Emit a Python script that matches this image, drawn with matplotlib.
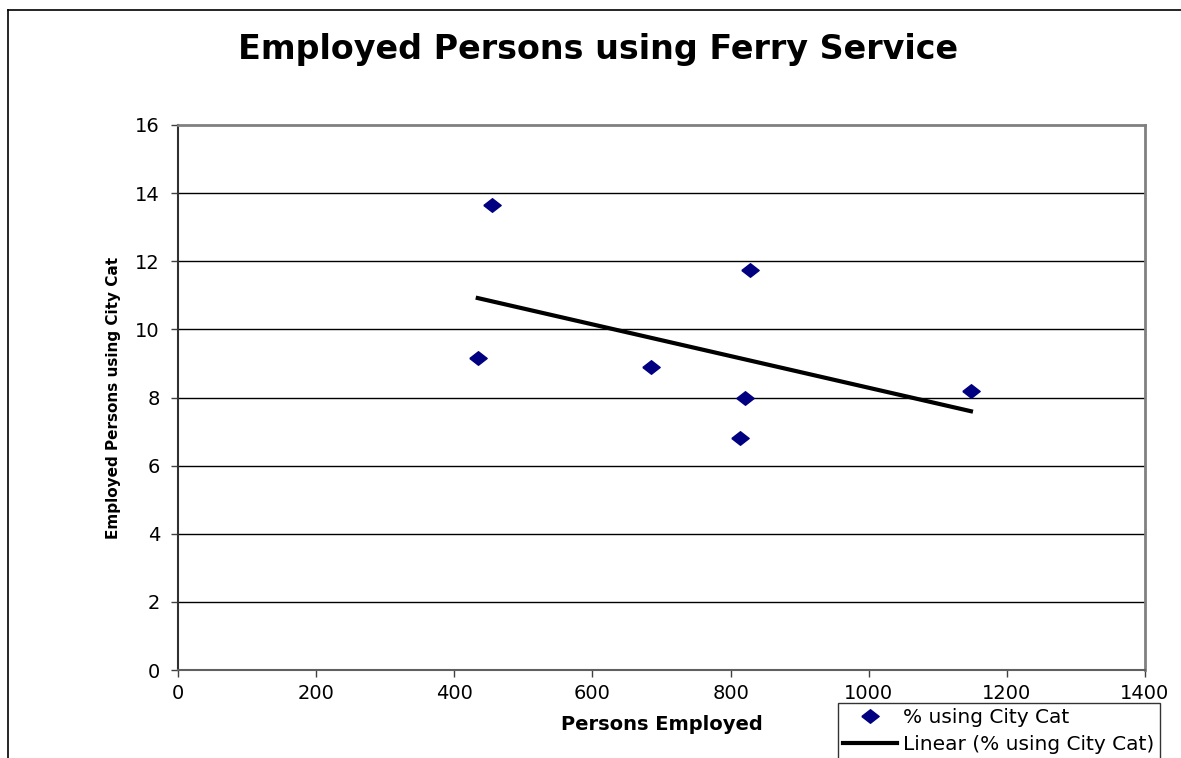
import numpy as np
import matplotlib
matplotlib.use('Agg')
import matplotlib.pyplot as plt
from matplotlib.lines import Line2D

plt.rcParams['font.family'] = ['DejaVu Sans']

# data
persons_employed = [434, 455, 685, 813, 821, 828, 1148]
pct_city_cat = [9.15, 13.65, 8.9, 6.8, 8.0, 11.75, 8.2]

x_ticks = [0, 200, 400, 600, 800, 1000, 1200, 1400]
y_ticks = [0, 2, 4, 6, 8, 10, 12, 14, 16]

fig = plt.figure(figsize=(11.81, 7.58), dpi=100)
ax = fig.add_axes([178/1181, 1-670/758, (1145-178)/1181, (670-125)/758])

# grid lines
for yv in y_ticks[1:-1]:
    ax.axhline(yv, color='black', lw=1.0, zorder=1)

diamond = [(-1, 0), (0, 0.78), (1, 0), (0, -0.78), (-1, 0)]
ax.plot(persons_employed, pct_city_cat, linestyle='none', marker=diamond,
        markersize=12.5, color='#000080', zorder=3, label='% using City Cat')

# linear trendline
k, b = np.polyfit(persons_employed, pct_city_cat, 1)
xs = np.array([min(persons_employed), max(persons_employed)])
ax.plot(xs, k*xs + b, color='black', lw=3, zorder=2,
        label='Linear (% using City Cat)')

ax.set_xlim(0, 1400)
ax.set_ylim(0, 16)
ax.set_xticks(x_ticks)
ax.set_yticks(y_ticks)
ax.tick_params(labelsize=14, direction='out', length=5, width=1, color='#404040')
ax.tick_params(axis='x', pad=5)
ax.tick_params(axis='y', pad=8)

for s in ['top', 'right']:
    ax.spines[s].set_color('#808080')
    ax.spines[s].set_linewidth(2)
ax.spines['left'].set_color('#303030')
ax.spines['left'].set_linewidth(1.5)
ax.spines['bottom'].set_color('#606060')
ax.spines['bottom'].set_linewidth(1.5)

ax.set_xlabel('Persons Employed', fontsize=14, fontweight='bold', labelpad=9)
ax.set_ylabel('Employed Persons using City Cat', fontsize=11, fontweight='bold', labelpad=10)

fig.text(598/1181, 1-50/758, 'Employed Persons using Ferry Service',
         ha='center', va='center', fontsize=24, fontweight='bold')

# outer chart border (top and left visible)
fig.add_artist(Line2D([8/1181, 1], [1-10/758, 1-10/758], color='black', lw=1.2))
fig.add_artist(Line2D([8/1181, 8/1181], [0, 1-10/758], color='black', lw=1.2))

leg = fig.legend(loc='upper left', bbox_to_anchor=(838/1181, 1-703/758),
                 fontsize=14.5, frameon=True, fancybox=False, edgecolor='black',
                 borderpad=0.25, handlelength=2.7, handletextpad=0.3,
                 labelspacing=0.38, borderaxespad=0)
leg.get_frame().set_linewidth(1.0)

fig.savefig('out.png', dpi=100)
